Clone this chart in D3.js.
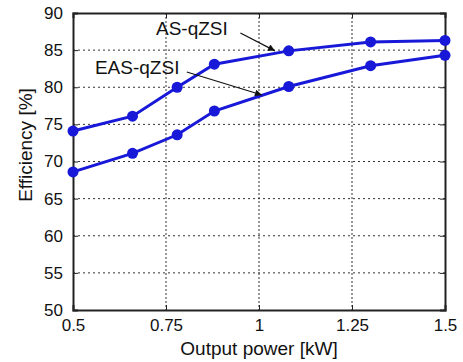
<!DOCTYPE html>
<html lang="en">
<head>
<meta charset="UTF-8">
<title>Efficiency vs output power</title>
<style>
  body { margin: 0; background: #fff; }
  text { font-family: Arial, "Liberation Sans", sans-serif; fill: #111; }
</style>
</head>
<body>
<div id="chart"></div>
<script src="https://cdn.jsdelivr.net/npm/d3@7"></script>
<script>
// data
var power = [0.5, 0.66, 0.78, 0.88, 1.08, 1.3, 1.5];
var asEff = [74.1, 76.1, 80, 83.1, 84.9, 86.1, 86.3];
var easEff = [68.6, 71.1, 73.6, 76.8, 80.1, 82.9, 84.3];
var xTicks = [0.5, 0.75, 1, 1.25, 1.5];
var xTickLabels = ["0.5", "0.75", "1", "1.25", "1.5"];
var yTicks = [50, 55, 60, 65, 70, 75, 80, 85, 90];
// annotation labels: [text x, text y, arrow from x, y, arrow to x, y] in data units
var annoNames = ["AS-qZSI", "EAS-qZSI"];
var annoPos = [
  [0.723, 87.0, 0.95, 87.3, 1.043, 84.9],
  [0.559, 81.8, 0.806, 82.05, 1.008, 78.95]
];

var W = 463, H = 362;
var margin = {top: 13, right: 18, bottom: 52, left: 73};
var width = W - margin.left - margin.right,
    height = H - margin.top - margin.bottom;

var svg = d3.select("#chart").append("svg")
    .attr("width", W)
    .attr("height", H);

svg.append("defs").append("marker")
    .attr("id", "arrow")
    .attr("viewBox", "0 0 10 10")
    .attr("refX", 10).attr("refY", 5)
    .attr("markerWidth", 9).attr("markerHeight", 7)
    .attr("markerUnits", "userSpaceOnUse")
    .attr("orient", "auto")
  .append("path")
    .attr("d", "M0,0 L10,5 L0,10 z")
    .attr("fill", "#111");

var g = svg.append("g")
    .attr("transform", "translate(" + margin.left + "," + margin.top + ")");

var x = d3.scaleLinear().domain([0.5, 1.5]).range([0, width]);
var y = d3.scaleLinear().domain([50, 90]).range([height, 0]);

// dotted grid
g.append("g").selectAll("line")
    .data(yTicks.slice(1, -1))
  .enter().append("line")
    .attr("x1", 0).attr("x2", width)
    .attr("y1", d => y(d)).attr("y2", d => y(d))
    .attr("stroke", "#333").attr("stroke-width", 1)
    .attr("stroke-dasharray", "2,3");

g.append("g").selectAll("line")
    .data(xTicks.slice(1, -1))
  .enter().append("line")
    .attr("y1", 0).attr("y2", height)
    .attr("x1", d => x(d)).attr("x2", d => x(d))
    .attr("stroke", "#333").attr("stroke-width", 1)
    .attr("stroke-dasharray", "2,2");

// axes with inward ticks
var xAxis = g.append("g")
    .attr("transform", "translate(0," + height + ")")
    .call(d3.axisBottom(x).tickValues(xTicks).tickSize(-5)
      .tickFormat((d, i) => xTickLabels[i]).tickPadding(9));
var xTop = g.append("g")
    .call(d3.axisTop(x).tickValues(xTicks).tickSize(-5).tickFormat(""));
var yAxis = g.append("g")
    .call(d3.axisLeft(y).tickValues(yTicks).tickSize(-5).tickPadding(10));
var yRight = g.append("g")
    .attr("transform", "translate(" + width + ",0)")
    .call(d3.axisRight(y).tickValues(yTicks).tickSize(-5).tickFormat(""));

[xAxis, xTop, yAxis, yRight].forEach(function(a) {
  a.select(".domain").attr("stroke", "#222").attr("stroke-width", 2);
  a.selectAll(".tick line").attr("stroke", "#222");
  a.selectAll("text").style("font-size", "17px").attr("fill", "#111");
});

// the two series
var line = d3.line()
    .x((d, i) => x(power[i]))
    .y(d => y(d));

[asEff, easEff].forEach(function(s) {
  g.append("path")
      .datum(s)
      .attr("d", line)
      .attr("fill", "none")
      .attr("stroke", "#1818d8")
      .attr("stroke-width", 3);
  g.append("g").selectAll("circle")
      .data(s)
    .enter().append("circle")
      .attr("cx", (d, i) => x(power[i]))
      .attr("cy", d => y(d))
      .attr("r", 5.5)
      .attr("fill", "#1818d8");
});

// annotations
annoPos.forEach(function(p, i) {
  g.append("text")
      .attr("x", x(p[0])).attr("y", y(p[1]))
      .style("font-size", "19px")
      .text(annoNames[i]);
  g.append("line")
      .attr("x1", x(p[2])).attr("y1", y(p[3]))
      .attr("x2", x(p[4])).attr("y2", y(p[5]))
      .attr("stroke", "#111").attr("stroke-width", 1.2)
      .attr("marker-end", "url(#arrow)");
});

// axis titles
svg.append("text")
    .attr("x", margin.left + width / 2)
    .attr("y", 355)
    .attr("text-anchor", "middle")
    .style("font-size", "19px")
    .text("Output power [kW]");

svg.append("text")
    .attr("transform", "translate(32,145) rotate(-90)")
    .attr("text-anchor", "middle")
    .style("font-size", "19px")
    .text("Efficiency [%]");
</script>
</body>
</html>
